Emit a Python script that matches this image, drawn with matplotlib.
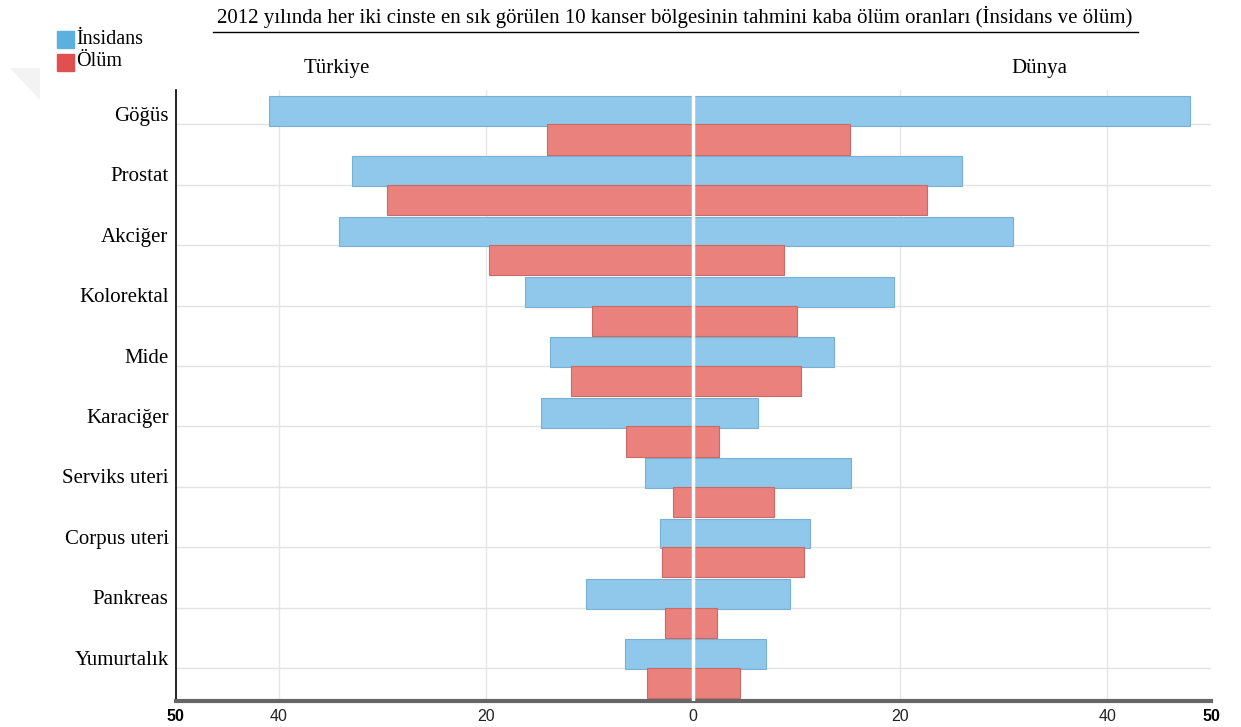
import matplotlib.pyplot as plt
import numpy as np
from matplotlib.patches import Rectangle, Polygon
from matplotlib.lines import Line2D

# Tahmini kaba oranlar (100 000'de), iki cinsiyet birlikte
kanserler = ['Göğüs', 'Prostat', 'Akciğer', 'Kolorektal', 'Mide', 'Karaciğer',
             'Serviks uteri', 'Corpus uteri', 'Pankreas', 'Yumurtalık']
turkiye_insidans = [41.0, 33.0, 34.2, 16.2, 13.8, 14.7, 4.7, 3.2, 10.4, 6.6]
turkiye_olum = [14.1, 29.6, 19.7, 9.8, 11.8, 6.5, 2.0, 3.0, 2.7, 4.5]
dunya_insidans = [48.0, 26.0, 30.9, 19.4, 13.6, 6.3, 15.2, 11.3, 9.3, 7.0]
dunya_olum = [15.1, 22.6, 8.8, 10.0, 10.4, 2.5, 7.8, 10.7, 2.3, 4.5]

mavi = '#8FC8EA'
mavi_kenar = '#78AFD2'
kirmizi = '#EA817C'
kirmizi_kenar = '#C86A66'

W, H = 1241, 727
fig = plt.figure(figsize=(W / 100, H / 100), dpi=100)
ax = fig.add_axes([175.5 / W, 26 / H, (1211 - 175.5) / W, (701 - 90) / H])

idx = np.arange(len(kanserler))

# Türkiye sola (negatif), Dünya sağa
ax.barh(idx - 0.226, -np.array(turkiye_insidans), height=0.495, color=mavi,
        edgecolor=mavi_kenar, linewidth=0.8, zorder=2)
ax.barh(idx - 0.226, dunya_insidans, height=0.495, color=mavi,
        edgecolor=mavi_kenar, linewidth=0.8, zorder=2)
ax.barh(idx + 0.25, -np.array(turkiye_olum), height=0.5, color=kirmizi,
        edgecolor=kirmizi_kenar, linewidth=0.8, zorder=3)
ax.barh(idx + 0.25, dunya_olum, height=0.5, color=kirmizi,
        edgecolor=kirmizi_kenar, linewidth=0.8, zorder=3)

ax.axvline(0, color='white', lw=2.5, zorder=5)

for x in [-40, -20, 20, 40]:
    ax.axvline(x, color='#E6E6E6', lw=1, zorder=0)
for y in idx:
    ax.axhline(y, color='#E3E3E3', lw=1, zorder=0)

ax.set_xlim(-50, 50)
ax.set_ylim(9.548, -0.568)

ticks = [-50, -40, -20, 0, 20, 40, 50]
ax.set_xticks(ticks)
ax.set_xticklabels([str(abs(t)) for t in ticks], family='Liberation Sans',
                   fontsize=11.5, color='#222222')
for lab in ax.get_xticklabels():
    if lab.get_text() == '50':
        lab.set_fontweight('bold')
        lab.set_color('black')
ax.tick_params(axis='x', length=0, pad=6)

ax.set_yticks(idx - 0.17)
ax.set_yticklabels(kanserler, family='Liberation Serif', fontsize=15)
ax.tick_params(axis='y', length=0, pad=5)

for s in ['top', 'right']:
    ax.spines[s].set_visible(False)
ax.spines['left'].set_color('black')
ax.spines['left'].set_linewidth(1.2)
ax.spines['bottom'].set_color('#666666')
ax.spines['bottom'].set_linewidth(3)

# Başlık ve alt çizgisi
fig.text(675 / W, 1 - 17 / H,
         '2012 yılında her iki cinste en sık görülen 10 kanser bölgesinin '
         'tahmini kaba ölüm oranları (İnsidans ve ölüm)',
         ha='center', va='center', family='Liberation Serif', fontsize=15)
fig.add_artist(Line2D([213 / W, 1138 / W], [1 - 32 / H, 1 - 32 / H],
                      color='black', lw=1))

# Lejant
fig.patches.append(Rectangle((57 / W, 1 - 48 / H), 17 / W, 17 / H,
                             transform=fig.transFigure, color='#5BB0E0'))
fig.patches.append(Rectangle((57 / W, 1 - 71 / H), 17 / W, 17 / H,
                             transform=fig.transFigure, color='#E05050'))
fig.text(76 / W, 1 - 39 / H, 'İnsidans', va='center', ha='left',
         family='Liberation Serif', fontsize=14.5)
fig.text(76 / W, 1 - 62 / H, 'Ölüm', va='center', ha='left',
         family='Liberation Serif', fontsize=14.5)

fig.text(337 / W, 1 - 68 / H, 'Türkiye', ha='center', va='center',
         family='Liberation Serif', fontsize=15)
fig.text(1039 / W, 1 - 68 / H, 'Dünya', ha='center', va='center',
         family='Liberation Serif', fontsize=15)

# soluk gri köşe işareti
fig.patches.append(Polygon([(10 / W, 1 - 68 / H), (40 / W, 1 - 68 / H),
                            (40 / W, 1 - 100 / H)], closed=True,
                           transform=fig.transFigure, color='#F3F3F3', lw=0))

fig.savefig('out.png', dpi=100)
